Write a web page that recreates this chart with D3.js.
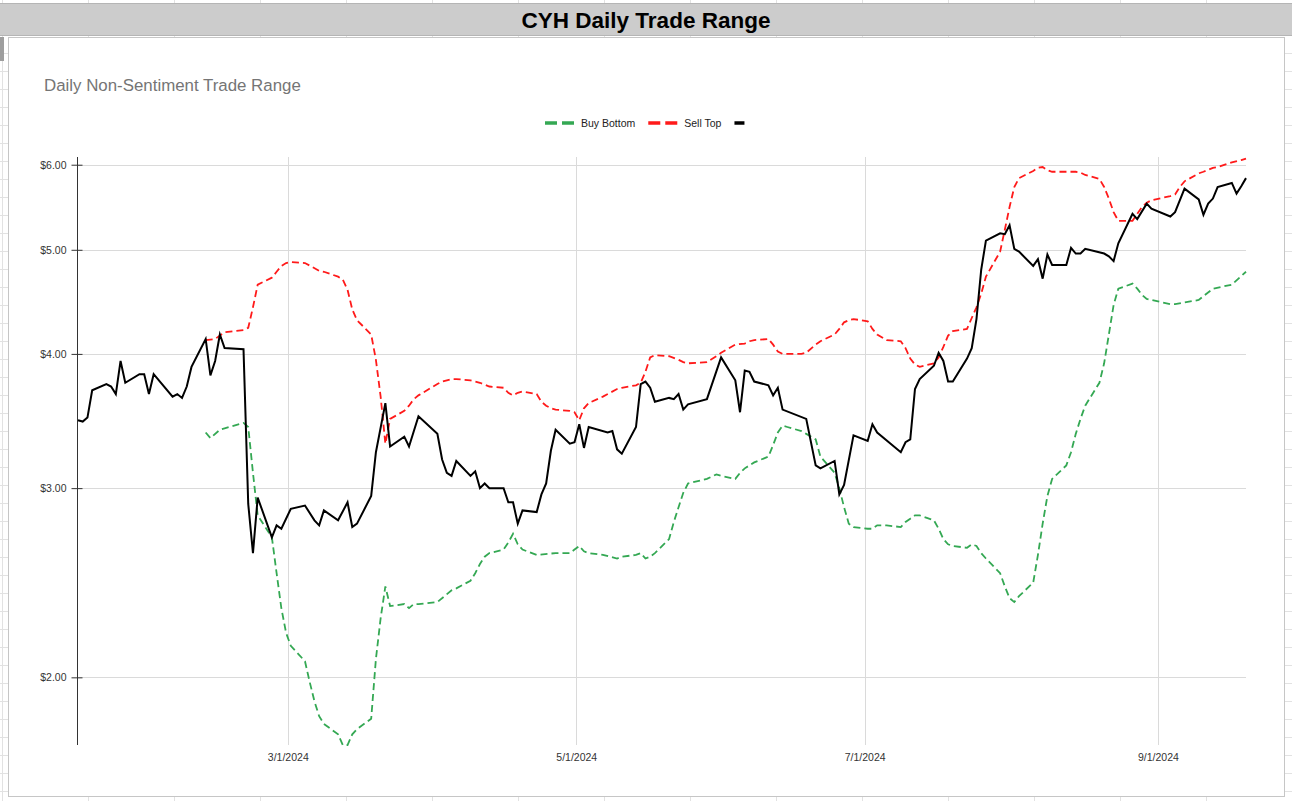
<!DOCTYPE html>
<html><head><meta charset="utf-8">
<script src="https://cdn.jsdelivr.net/npm/d3@7"></script>
<style>
html,body{margin:0;padding:0;background:#fff;overflow:hidden}
svg{display:block}
text{font-family:"Liberation Sans",Arial,Helvetica,sans-serif}
</style>
</head><body>
<svg id="c" width="1292" height="801"></svg>
<script>
// ---------------- DATA ----------------
const chartTitle = "CYH Daily Trade Range";
const chartSubtitle = "Daily Non-Sentiment Trade Range";
const seriesNames = ["Buy Bottom", "Sell Top", ""];
const seriesColors = ["#34a853", "#ff1a1a", "#000000"];
const yTickValues = [2, 3, 4, 5, 6];
const xTickDates = ["2024-03-01", "2024-05-01", "2024-07-01", "2024-09-01"];
const xDomain = ["2024-01-16", "2024-09-19"];
const yDomain = [1.73, 6.1];

const priceClose = [
["2024-01-16",3.47],["2024-01-17",3.46],["2024-01-18",3.49],["2024-01-19",3.70],
["2024-01-22",3.75],["2024-01-23",3.73],["2024-01-24",3.67],["2024-01-25",3.94],["2024-01-26",3.76],
["2024-01-29",3.83],["2024-01-30",3.83],["2024-01-31",3.67],["2024-02-01",3.83],
["2024-02-05",3.65],["2024-02-06",3.67],["2024-02-07",3.64],["2024-02-08",3.73],["2024-02-09",3.89],
["2024-02-12",4.13],["2024-02-13",3.82],["2024-02-14",3.94],["2024-02-15",4.17],["2024-02-16",4.05],
["2024-02-20",4.04],["2024-02-21",2.90],["2024-02-22",2.61],["2024-02-23",2.94],
["2024-02-26",2.70],["2024-02-27",2.77],["2024-02-28",2.75],["2024-03-01",2.87],
["2024-03-04",2.89],["2024-03-06",2.80],["2024-03-07",2.77],["2024-03-08",2.86],
["2024-03-11",2.80],["2024-03-13",2.91],["2024-03-14",2.76],["2024-03-15",2.78],
["2024-03-18",2.95],["2024-03-19",3.24],["2024-03-21",3.60],["2024-03-22",3.28],
["2024-03-25",3.35],["2024-03-26",3.28],["2024-03-28",3.50],
["2024-04-01",3.37],["2024-04-02",3.19],["2024-04-03",3.10],["2024-04-04",3.08],["2024-04-05",3.18],
["2024-04-08",3.08],["2024-04-09",3.11],["2024-04-10",3.00],["2024-04-11",3.03],["2024-04-12",3.00],
["2024-04-15",3.00],["2024-04-16",2.91],["2024-04-17",2.91],["2024-04-18",2.78],["2024-04-19",2.86],
["2024-04-22",2.85],["2024-04-23",2.96],["2024-04-24",3.03],["2024-04-25",3.25],["2024-04-26",3.40],
["2024-04-29",3.30],["2024-04-30",3.31],["2024-05-01",3.44],["2024-05-02",3.27],["2024-05-03",3.42],
["2024-05-07",3.38],["2024-05-08",3.39],["2024-05-09",3.26],["2024-05-10",3.23],
["2024-05-13",3.42],["2024-05-14",3.75],["2024-05-15",3.77],["2024-05-16",3.72],["2024-05-17",3.61],
["2024-05-20",3.64],["2024-05-21",3.63],["2024-05-22",3.67],["2024-05-23",3.55],["2024-05-24",3.59],
["2024-05-28",3.63],["2024-05-31",3.97],
["2024-06-03",3.78],["2024-06-04",3.53],["2024-06-05",3.86],["2024-06-06",3.85],["2024-06-07",3.77],
["2024-06-10",3.74],["2024-06-11",3.66],["2024-06-12",3.72],["2024-06-13",3.55],
["2024-06-18",3.48],["2024-06-20",3.15],["2024-06-21",3.13],
["2024-06-24",3.18],["2024-06-25",2.96],["2024-06-26",3.02],["2024-06-28",3.36],
["2024-07-01",3.32],["2024-07-02",3.44],["2024-07-03",3.38],
["2024-07-08",3.24],["2024-07-09",3.31],["2024-07-10",3.33],["2024-07-11",3.71],["2024-07-12",3.79],
["2024-07-15",3.90],["2024-07-16",4.01],["2024-07-17",3.94],["2024-07-18",3.77],["2024-07-19",3.77],
["2024-07-22",3.96],["2024-07-23",4.05],["2024-07-24",4.31],["2024-07-25",4.79],["2024-07-26",5.10],
["2024-07-29",5.18],["2024-07-30",5.17],["2024-07-31",5.27],["2024-08-01",5.01],["2024-08-02",4.98],
["2024-08-05",4.83],["2024-08-06",4.90],["2024-08-07",4.70],["2024-08-08",4.95],["2024-08-09",4.84],
["2024-08-12",4.84],["2024-08-13",5.02],["2024-08-14",4.96],["2024-08-15",4.96],["2024-08-16",5.01],
["2024-08-20",4.96],["2024-08-21",4.93],["2024-08-22",4.88],["2024-08-23",5.07],
["2024-08-26",5.40],["2024-08-27",5.34],["2024-08-29",5.52],["2024-08-30",5.46],
["2024-09-03",5.37],["2024-09-04",5.42],["2024-09-06",5.70],
["2024-09-09",5.57],["2024-09-10",5.39],["2024-09-11",5.52],["2024-09-12",5.58],["2024-09-13",5.72],
["2024-09-16",5.77],["2024-09-17",5.64],["2024-09-18",5.73],["2024-09-19",5.83]
];

const sellTop = [
["2024-02-12",4.12],["2024-02-14",4.13],["2024-02-16",4.19],["2024-02-20",4.21],["2024-02-21",4.23],["2024-02-22",4.42],["2024-02-23",4.64],
["2024-02-26",4.71],["2024-02-27",4.77],["2024-02-28",4.83],["2024-02-29",4.86],["2024-03-01",4.87],
["2024-03-04",4.86],["2024-03-07",4.78],["2024-03-08",4.77],["2024-03-11",4.72],["2024-03-12",4.69],["2024-03-13",4.59],["2024-03-14",4.40],["2024-03-15",4.30],
["2024-03-18",4.17],["2024-03-19",3.95],["2024-03-20",3.65],["2024-03-21",3.30],["2024-03-22",3.48],
["2024-03-25",3.54],["2024-03-26",3.58],["2024-03-27",3.63],["2024-03-28",3.66],
["2024-04-01",3.75],["2024-04-02",3.77],["2024-04-03",3.78],["2024-04-04",3.79],["2024-04-05",3.79],
["2024-04-08",3.78],["2024-04-10",3.76],["2024-04-12",3.73],["2024-04-15",3.72],["2024-04-16",3.68],["2024-04-17",3.66],["2024-04-18",3.68],["2024-04-19",3.69],
["2024-04-22",3.67],["2024-04-23",3.61],["2024-04-24",3.58],["2024-04-25",3.56],["2024-04-26",3.55],
["2024-04-29",3.54],["2024-04-30",3.53],["2024-05-01",3.47],["2024-05-02",3.56],["2024-05-03",3.60],
["2024-05-06",3.65],["2024-05-09",3.71],["2024-05-10",3.72],["2024-05-13",3.74],["2024-05-14",3.76],["2024-05-15",3.85],["2024-05-16",3.97],["2024-05-17",3.99],
["2024-05-20",3.98],["2024-05-22",3.95],["2024-05-23",3.93],["2024-05-24",3.92],["2024-05-28",3.93],["2024-05-30",3.98],["2024-05-31",4.01],
["2024-06-03",4.08],["2024-06-05",4.09],["2024-06-06",4.11],["2024-06-07",4.12],["2024-06-10",4.13],["2024-06-11",4.08],["2024-06-12",4.02],["2024-06-13",4.00],
["2024-06-14",4.00],["2024-06-17",4.00],["2024-06-18",4.01],["2024-06-20",4.08],["2024-06-21",4.11],
["2024-06-24",4.17],["2024-06-25",4.22],["2024-06-26",4.28],["2024-06-27",4.30],["2024-06-28",4.31],
["2024-07-01",4.29],["2024-07-02",4.22],["2024-07-03",4.17],["2024-07-05",4.12],["2024-07-08",4.11],["2024-07-09",4.05],["2024-07-10",3.96],["2024-07-11",3.91],["2024-07-12",3.89],
["2024-07-15",3.92],["2024-07-16",3.97],["2024-07-17",4.06],["2024-07-18",4.16],["2024-07-19",4.20],
["2024-07-22",4.22],["2024-07-23",4.32],["2024-07-24",4.42],["2024-07-25",4.55],["2024-07-26",4.72],
["2024-07-29",4.98],["2024-07-30",5.22],["2024-07-31",5.48],["2024-08-01",5.72],["2024-08-02",5.83],
["2024-08-05",5.92],["2024-08-06",5.96],["2024-08-07",5.97],["2024-08-08",5.93],["2024-08-09",5.91],
["2024-08-12",5.91],["2024-08-14",5.91],["2024-08-15",5.90],["2024-08-16",5.87],
["2024-08-19",5.82],["2024-08-20",5.72],["2024-08-21",5.58],["2024-08-22",5.42],["2024-08-23",5.32],
["2024-08-26",5.32],["2024-08-27",5.40],["2024-08-28",5.48],["2024-08-29",5.53],["2024-08-30",5.56],
["2024-09-03",5.61],["2024-09-04",5.63],["2024-09-05",5.72],["2024-09-06",5.79],
["2024-09-09",5.89],["2024-09-10",5.91],["2024-09-12",5.96],["2024-09-13",5.97],
["2024-09-16",6.03],["2024-09-18",6.06],["2024-09-19",6.08]
];

const buyBottom = [
["2024-02-12",3.38],["2024-02-13",3.34],["2024-02-15",3.40],["2024-02-16",3.41],["2024-02-20",3.45],["2024-02-21",3.42],["2024-02-22",3.10],["2024-02-23",2.83],
["2024-02-26",2.70],["2024-02-27",2.50],["2024-02-28",2.32],["2024-02-29",2.20],["2024-03-01",2.14],
["2024-03-04",2.07],["2024-03-05",1.98],["2024-03-06",1.90],["2024-03-07",1.84],["2024-03-08",1.81],
["2024-03-11",1.77],["2024-03-12",1.73],["2024-03-13",1.73],["2024-03-14",1.77],["2024-03-15",1.79],
["2024-03-18",1.83],["2024-03-19",2.08],["2024-03-20",2.27],["2024-03-21",2.43],["2024-03-22",2.33],
["2024-03-25",2.34],["2024-03-26",2.32],["2024-03-27",2.34],["2024-03-28",2.34],
["2024-04-01",2.35],["2024-04-04",2.41],["2024-04-05",2.42],["2024-04-08",2.46],["2024-04-09",2.50],["2024-04-10",2.55],["2024-04-11",2.59],["2024-04-12",2.61],
["2024-04-15",2.63],["2024-04-16",2.67],["2024-04-17",2.72],["2024-04-18",2.66],["2024-04-19",2.63],
["2024-04-22",2.60],["2024-04-26",2.61],["2024-04-29",2.61],["2024-04-30",2.63],["2024-05-01",2.65],["2024-05-02",2.62],["2024-05-03",2.61],
["2024-05-06",2.60],["2024-05-09",2.58],["2024-05-10",2.59],["2024-05-13",2.60],["2024-05-14",2.61],["2024-05-15",2.58],["2024-05-16",2.59],["2024-05-17",2.61],
["2024-05-20",2.69],["2024-05-21",2.79],["2024-05-22",2.88],["2024-05-23",2.97],["2024-05-24",3.03],
["2024-05-28",3.06],["2024-05-30",3.09],["2024-05-31",3.08],
["2024-06-03",3.06],["2024-06-04",3.10],["2024-06-05",3.13],["2024-06-06",3.15],["2024-06-07",3.17],
["2024-06-10",3.21],["2024-06-11",3.29],["2024-06-12",3.38],["2024-06-13",3.43],["2024-06-14",3.42],
["2024-06-17",3.39],["2024-06-18",3.37],["2024-06-20",3.33],["2024-06-21",3.21],
["2024-06-24",3.10],["2024-06-25",3.00],["2024-06-26",2.88],["2024-06-27",2.78],["2024-06-28",2.76],
["2024-07-01",2.75],["2024-07-02",2.75],["2024-07-03",2.77],["2024-07-05",2.77],["2024-07-08",2.76],["2024-07-09",2.79],["2024-07-10",2.81],["2024-07-11",2.83],["2024-07-12",2.83],
["2024-07-15",2.80],["2024-07-16",2.75],["2024-07-17",2.69],["2024-07-18",2.66],["2024-07-19",2.65],
["2024-07-22",2.64],["2024-07-23",2.66],["2024-07-24",2.65],["2024-07-25",2.61],["2024-07-26",2.58],
["2024-07-29",2.50],["2024-07-30",2.43],["2024-07-31",2.37],["2024-08-01",2.35],["2024-08-02",2.38],
["2024-08-05",2.45],["2024-08-06",2.60],["2024-08-07",2.78],["2024-08-08",2.95],["2024-08-09",3.06],
["2024-08-12",3.15],["2024-08-13",3.24],["2024-08-14",3.37],["2024-08-15",3.48],["2024-08-16",3.58],
["2024-08-19",3.76],["2024-08-20",3.92],["2024-08-21",4.17],["2024-08-22",4.44],["2024-08-23",4.60],
["2024-08-26",4.65],["2024-08-27",4.60],["2024-08-28",4.54],["2024-08-29",4.50],["2024-08-30",4.49],
["2024-09-03",4.45],["2024-09-04",4.45],["2024-09-09",4.49],["2024-09-12",4.60],["2024-09-16",4.64],["2024-09-19",4.77]
];

// ---------------- DRAW ----------------
const W = 1292, H = 801;
const svg = d3.select("#c");
const parse = d3.timeParse("%Y-%m-%d");

// spreadsheet background grid
const bg = svg.append("g");
bg.append("rect").attr("width", W).attr("height", H).attr("fill", "#ffffff");
const colLines = d3.range(2.5, W, 86);
const rowLines = d3.range(35.5, H, 18);
bg.selectAll("line.col").data(colLines).join("line")
  .attr("x1", d => d).attr("x2", d => d).attr("y1", 0).attr("y2", H)
  .attr("stroke", "#e2e2e2");
bg.selectAll("line.row").data(rowLines).join("line")
  .attr("x1", 0).attr("x2", W).attr("y1", d => d).attr("y2", d => d)
  .attr("stroke", "#e2e2e2");

// title band
svg.append("rect").attr("x", 0).attr("y", 3).attr("width", W).attr("height", 32)
  .attr("fill", "#cccccc");
svg.append("line").attr("x1", 0).attr("x2", W).attr("y1", 3.5).attr("y2", 3.5).attr("stroke", "#b5b5b5");
svg.append("line").attr("x1", 0).attr("x2", W).attr("y1", 35.5).attr("y2", 35.5).attr("stroke", "#b5b5b5");
const title = svg.append("text").attr("x", 646).attr("y", 28)
  .attr("text-anchor", "middle").attr("font-weight", "bold").attr("font-size", 22)
  .attr("fill", "#000").text(chartTitle);
function fitWidth(t, target){ const w = t.node().getComputedTextLength(); const fs = +t.attr("font-size"); t.attr("font-size", fs * target / w); }
fitWidth(title, 249);

// chart card
svg.append("rect").attr("x", 8.5).attr("y", 37.5).attr("width", 1276).attr("height", 759)
  .attr("fill", "#ffffff").attr("stroke", "#c6c6c6");
svg.append("rect").attr("x", 0).attr("y", 37).attr("width", 4).attr("height", 24).attr("fill", "#9e9e9e");

const sub = svg.append("text").attr("x", 44).attr("y", 91).attr("font-size", 17)
  .attr("fill", "#757575").text(chartSubtitle);
fitWidth(sub, 257);

// scales
const x = d3.scaleTime().domain(xDomain.map(parse)).range([78, 1246]);
// axis ticks sit a little earlier than the data dates in the source chart (time-zone offset)
const xTick = x.copy().range([75, 1243]);
const y = d3.scaleLog().domain(yDomain).range([745, 157]);

// gridlines
const grid = svg.append("g");
grid.selectAll("line.h").data(yTickValues).join("line")
  .attr("x1", 78).attr("x2", 1246)
  .attr("y1", d => Math.round(y(d)) + 0.5).attr("y2", d => Math.round(y(d)) + 0.5)
  .attr("stroke", "#dadada");
grid.selectAll("line.v").data(xTickDates.map(parse)).join("line")
  .attr("x1", d => Math.round(xTick(d)) + 0.5).attr("x2", d => Math.round(xTick(d)) + 0.5)
  .attr("y1", 157).attr("y2", 745)
  .attr("stroke", "#dadada");

// y axis
const yAxis = svg.append("g").attr("transform", "translate(77.5,0)")
  .call(d3.axisLeft(y).tickValues(yTickValues).tickFormat(d3.format("$.2f")).tickSize(6).tickPadding(5));
yAxis.select(".domain").attr("stroke", "#333").attr("d", `M0,${y.range()[1]}V${y.range()[0]}`);
yAxis.selectAll(".tick line").attr("stroke", "#333").attr("x2", -6).attr("x1", 5);
yAxis.selectAll(".tick text").attr("font-size", 10.5).attr("fill", "#333")
  .attr("font-family", '"Liberation Sans",Arial,sans-serif');

// x axis (labels only)
const xAxis = svg.append("g").attr("transform", "translate(0,745)")
  .call(d3.axisBottom(xTick).tickValues(xTickDates.map(parse)).tickFormat(d3.timeFormat("%-m/%-d/%Y")).tickSize(0).tickPadding(9));
xAxis.select(".domain").remove();
xAxis.selectAll(".tick text").attr("font-size", 10.5).attr("fill", "#333")
  .attr("font-family", '"Liberation Sans",Arial,sans-serif');

// lines
const line = d3.line().x(d => x(parse(d[0]))).y(d => y(d[1]));
const plot = svg.append("g");
plot.append("path").datum(buyBottom).attr("d", line).attr("fill", "none")
  .attr("stroke", seriesColors[0]).attr("stroke-width", 1.8).attr("stroke-dasharray", "7,4");
plot.append("path").datum(sellTop).attr("d", line).attr("fill", "none")
  .attr("stroke", seriesColors[1]).attr("stroke-width", 1.8).attr("stroke-dasharray", "7,4");
plot.append("path").datum(priceClose).attr("d", line).attr("fill", "none")
  .attr("stroke", seriesColors[2]).attr("stroke-width", 2).attr("stroke-linejoin", "miter");

// legend
const lg = svg.append("g").attr("transform", "translate(545,123)");
let cx = 0;
seriesNames.forEach((name, i) => {
  const dashed = i < 2;
  const sw = dashed ? 29 : 10;
  lg.append("line").attr("x1", cx).attr("x2", cx + sw).attr("y1", 0).attr("y2", 0)
    .attr("stroke", seriesColors[i]).attr("stroke-width", 3.5)
    .attr("stroke-dasharray", dashed ? "12,5" : null);
  cx += sw + 7;
  if (name) {
    const t = lg.append("text").attr("x", cx).attr("y", 4).attr("font-size", 10.5).attr("fill", "#222").text(name);
    cx += t.node().getComputedTextLength() + 13;
  }
});
</script>
</body></html>
